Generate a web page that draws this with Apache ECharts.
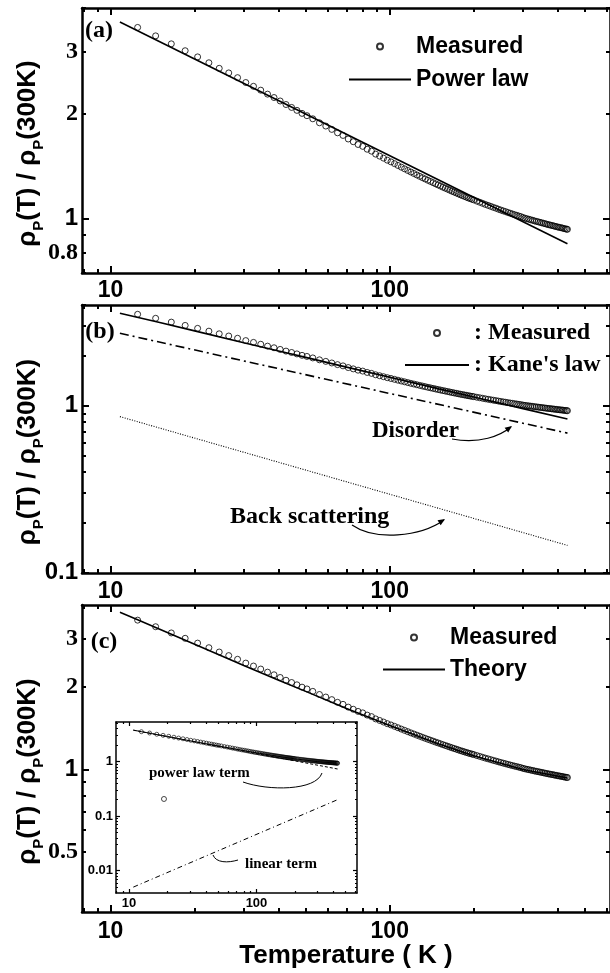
<!DOCTYPE html>
<html><head><meta charset="utf-8">
<script src="https://cdn.jsdelivr.net/npm/echarts@6/dist/echarts.min.js"></script>
<style>html,body{margin:0;padding:0;background:#fff}#c{width:610px;height:973px}</style>
</head><body><div id="c"></div>
<script>
// ---------- data ----------
const tempLabels = [10, 100];
const tempMajorTicks = [10, 100];
const tempMinorTicks = [8, 9, 20, 30, 40, 50, 60, 70, 80, 90, 200, 300, 400, 500, 600];

const measuredT = [12.5,14.5,16.5,18.5,20.5,22.5,24.5,26.5,28.5,30.5,32.5,34.5,36.5,38.5,40.5,42.5,44.5,46.5,48.5,50.5,
 53,56,59,62,65,68,71,74,77,80,83,86,89,92,95,98,
 101,104,107,110,113,116,119,122,125,128,131,134,137,140,143,146,149,152,155,158,161,164,167,170,173,176,179,182,185,188,191,194,197,200,
 205,210,215,220,225,230,235,240,245,250,255,260,265,270,275,280,285,290,295,300,305,310,315,320,325,330,335,340,345,350,355,360,365,370,375,380,385,390,395,400,405,410,415,420,425,430,433];
const measuredRatio = [3.52,3.33,3.16,3.02,2.90,2.79,2.69,2.61,2.53,2.45,2.39,2.33,2.27,2.22,2.17,2.12,2.08,2.04,2.00,1.97,
 1.93,1.88,1.84,1.80,1.76,1.73,1.69,1.66,1.63,1.61,1.58,1.56,1.53,1.51,1.49,1.47,
 1.454,1.437,1.420,1.404,1.389,1.374,1.360,1.347,1.334,1.322,1.310,1.299,1.288,1.278,1.268,1.258,1.249,1.240,1.231,1.223,1.215,1.207,1.199,1.192,1.185,1.178,1.171,1.165,1.159,1.153,1.147,1.142,1.137,1.132,
 1.123,1.115,1.107,1.099,1.092,1.085,1.078,1.072,1.065,1.059,1.053,1.048,1.042,1.037,1.032,1.027,1.023,1.018,1.014,1.008,1.004,1.000,0.997,0.993,0.990,0.986,0.983,0.980,0.977,0.974,0.971,0.968,0.965,0.962,0.960,0.957,0.955,0.952,0.950,0.947,0.945,0.943,0.941,0.938,0.936,0.934,0.933];

const powerLawT = [10.8, 433];
const powerLawRatio = [3.65, 0.848];

const kaneT = [10.8, 15, 20, 30, 40, 50, 70, 100, 150, 200, 300, 433];
const kaneRatio = [3.57, 3.14, 2.80, 2.38, 2.125, 1.945, 1.70, 1.48, 1.26, 1.126, 0.96, 0.832];
const disorderT = [10.8, 433];
const disorderRatio = [2.71, 0.685];
const backScatT = [10.8, 433];
const backScatRatio = [0.86, 0.146];

const theoryT = [10.8, 12.5, 15, 20, 30, 40, 50, 70, 100, 150, 200, 300, 433];
const theoryRatio = [3.76, 3.53, 3.26, 2.87, 2.40, 2.12, 1.93, 1.67, 1.446, 1.239, 1.121, 0.998, 0.929];
const powerTermT = [10.8, 433];
const powerTermRatio = [3.755, 0.73];
const linearTermT = [10.8, 433];
const linearTermRatio = [0.005, 0.2];
const insetMarkerT = [18.8];
const insetMarkerRatio = [0.206];

const yTicksA = {major: [1], minor: [0.7, 0.8, 0.9, 2, 3, 4], labels: [0.8, 1, 2, 3]};
const yTicksB = {major: [0.1, 1], minor: [0.2, 0.3, 0.4, 0.5, 0.6, 0.7, 0.8, 0.9, 2, 3, 4], labels: [0.1, 1]};
const yTicksC = {major: [1], minor: [0.5, 0.6, 0.7, 0.8, 0.9, 2, 3], labels: [0.5, 1, 2, 3]};
const yTicksInset = {major: [0.01, 0.1, 1], minor: [0.005, 0.006, 0.007, 0.008, 0.009, 0.02, 0.03, 0.04, 0.05, 0.06, 0.07, 0.08, 0.09, 0.2, 0.3, 0.4, 0.5, 0.6, 0.7, 0.8, 0.9, 2, 3, 4, 5], labels: [0.01, 0.1, 1]};

// ---------- helpers ----------
const pairs = (xs, ys) => xs.map((x, i) => [x, ys[i]]);
const fmtTick = v => String(Math.round(v * 1000) / 1000);
const SANS = 'Liberation Sans', SERIF = 'Liberation Serif';

function yLabelFormatter(serifLabels) {
  return v => { const s = fmtTick(v); return serifLabels.includes(s) ? '{r|' + s + '}' : '{s|' + s + '}'; };
}

function axisSet(dim, g, range, ticks, st) {
  const p = dim === 'x' ? ['bottom', 'top'] : ['left', 'right'];
  const base = {type: 'log', logBase: 10, gridIndex: g, min: range[0], max: range[1],
    splitLine: {show: false}, minorTick: {show: false}, silent: true};
  const tickStyle = {color: '#000', width: st.tickWidth};
  const major = (pos, withLabel) => Object.assign({}, base, {
    position: pos,
    axisLine: {show: true, onZero: false, lineStyle: {color: '#000', width: st.lineWidth}},
    axisTick: {show: true, inside: true, length: st.majorLen, lineStyle: tickStyle, customValues: ticks.major},
    axisLabel: withLabel ? Object.assign({show: true, customValues: ticks.labels}, st.label) : {show: false}
  });
  const minor = pos => Object.assign({}, base, {
    position: pos,
    axisLine: {show: false},
    axisTick: {show: true, inside: true, length: st.minorLen, lineStyle: tickStyle, customValues: ticks.minor},
    axisLabel: {show: false}
  });
  return [major(p[0], st.showLabel !== false), minor(p[0]), major(p[1], false), minor(p[1])];
}

const tempRange = [7.9, 615];
const tempTicks = {major: tempMajorTicks, minor: tempMinorTicks, labels: tempLabels};
const mainStyle = {lineWidth: 2.5, tickWidth: 2, majorLen: 7, minorLen: 4};
const xLabelMain = {margin: 6, fontFamily: SANS, fontWeight: 'bold', fontSize: 23, color: '#000', formatter: v => fmtTick(v)};
const yRich = {
  s: {fontFamily: SANS, fontWeight: 'bold', fontSize: 24, color: '#000'},
  r: {fontFamily: SERIF, fontWeight: 'bold', fontSize: 24, color: '#000'}
};
const yTitle = '{m|ρ}{sub|P}{m|(T) / ρ}{sub|P}{m|(300K)}{sp|}';
const yTitleStyle = {
  fontFamily: SANS, fontWeight: 'bold', fontSize: 26, color: '#000',
  rich: {
    m: {fontFamily: SANS, fontWeight: 'bold', fontSize: 26, color: '#000', padding: [0, 0, 5, 0], verticalAlign: 'bottom'},
    sub: {fontFamily: SANS, fontWeight: 'bold', fontSize: 15, color: '#000', verticalAlign: 'bottom'},
    sp: {width: 26, fontSize: 10}
  }
};

const grids = [
  {left: 82, top: 8, width: 531, height: 265},
  {left: 82, top: 305, width: 531, height: 268},
  {left: 82, top: 605, width: 531, height: 307},
  {left: 116, top: 722, width: 241, height: 171}
];

const yLabMargin = 4;
const xAxes = [], yAxes = [];
// panel (a)
xAxes.push(...axisSet('x', 0, tempRange, tempTicks, Object.assign({label: xLabelMain}, mainStyle)));
yAxes.push(...axisSet('y', 0, [0.7, 4], yTicksA, Object.assign({label: {margin: yLabMargin, formatter: yLabelFormatter(['3', '2', '0.8']), rich: yRich}}, mainStyle)));
// panel (b)
xAxes.push(...axisSet('x', 1, tempRange, tempTicks, Object.assign({label: Object.assign({}, xLabelMain, {margin: 7})}, mainStyle)));
yAxes.push(...axisSet('y', 1, [0.0998, 4], yTicksB, Object.assign({label: {margin: yLabMargin, formatter: yLabelFormatter([]), rich: yRich}}, mainStyle)));
// panel (c)
xAxes.push(...axisSet('x', 2, tempRange, tempTicks, Object.assign({label: Object.assign({}, xLabelMain, {margin: 8})}, mainStyle)));
yAxes.push(...axisSet('y', 2, [0.3, 4], yTicksC, Object.assign({label: {margin: yLabMargin, formatter: yLabelFormatter(['3', '2', '0.5']), rich: yRich}}, mainStyle)));
// inset
const insetStyle = {lineWidth: 1.5, tickWidth: 1.2, majorLen: 4, minorLen: 2};
xAxes.push(...axisSet('x', 3, tempRange, tempTicks, Object.assign({label: {margin: 4, fontFamily: SANS, fontWeight: 'bold', fontSize: 13, color: '#000', formatter: v => fmtTick(v)}}, insetStyle)));
yAxes.push(...axisSet('y', 3, [0.0039, 5.3], yTicksInset, Object.assign({label: {margin: 3, fontFamily: SANS, fontWeight: 'bold', fontSize: 13, color: '#000', formatter: v => fmtTick(v)}}, insetStyle)));

[0, 4, 8].forEach(i => Object.assign(yAxes[i], {name: yTitle, nameLocation: 'middle', nameRotate: 90, nameGap: 36, nameMoveOverlap: false, nameTextStyle: yTitleStyle}));
Object.assign(xAxes[8], {name: 'Temperature ( K )', nameLocation: 'middle', nameGap: 31, nameMoveOverlap: false,
  nameTextStyle: {fontFamily: SANS, fontWeight: 'bold', fontSize: 26, color: '#000'}});

const scatterStyle = (size, bw) => ({type: 'scatter', symbol: 'circle', symbolSize: size,
  itemStyle: {color: 'rgba(0,0,0,0)', borderColor: '#000', borderWidth: bw}, z: 2, silent: true});
const lineStyleSeries = (lw, type) => ({type: 'line', symbol: 'none', showSymbol: false, z: 3, silent: true,
  lineStyle: {color: '#000', width: lw, type: type || 'solid'}, itemStyle: {color: '#000'}});

const series = [
  Object.assign(scatterStyle(6, 1), {name: 'Measured', xAxisIndex: 0, yAxisIndex: 0, data: pairs(measuredT, measuredRatio)}),
  Object.assign(lineStyleSeries(1.6), {name: 'Power law', xAxisIndex: 0, yAxisIndex: 0, data: pairs(powerLawT, powerLawRatio)}),

  Object.assign(scatterStyle(6, 1), {name: 'Measured', xAxisIndex: 4, yAxisIndex: 4, data: pairs(measuredT, measuredRatio)}),
  Object.assign(lineStyleSeries(1.6), {name: "Kane's law", xAxisIndex: 4, yAxisIndex: 4, data: pairs(kaneT, kaneRatio)}),
  Object.assign(lineStyleSeries(1.6, [9, 4, 2, 4]), {name: 'Disorder', xAxisIndex: 4, yAxisIndex: 4, data: pairs(disorderT, disorderRatio)}),
  Object.assign(lineStyleSeries(1.1, [1, 1.5]), {name: 'Back scattering', xAxisIndex: 4, yAxisIndex: 4, data: pairs(backScatT, backScatRatio)}),

  Object.assign(scatterStyle(6, 1), {name: 'Measured', xAxisIndex: 8, yAxisIndex: 8, data: pairs(measuredT, measuredRatio)}),
  Object.assign(lineStyleSeries(1.6), {name: 'Theory', xAxisIndex: 8, yAxisIndex: 8, data: pairs(theoryT, theoryRatio)}),

  Object.assign(scatterStyle(4, 0.8), {name: 'Measured (inset)', xAxisIndex: 12, yAxisIndex: 12, data: pairs(measuredT, measuredRatio)}),
  Object.assign(lineStyleSeries(1), {name: 'Theory (inset)', xAxisIndex: 12, yAxisIndex: 12, data: pairs(theoryT, theoryRatio)}),
  Object.assign(lineStyleSeries(1, [3, 2]), {name: 'power law term', xAxisIndex: 12, yAxisIndex: 12, data: pairs(powerTermT, powerTermRatio)}),
  Object.assign(lineStyleSeries(1, [5, 3, 1, 3]), {name: 'linear term', xAxisIndex: 12, yAxisIndex: 12, data: pairs(linearTermT, linearTermRatio)}),
  Object.assign(scatterStyle(5, 0.9), {name: 'inset marker', xAxisIndex: 12, yAxisIndex: 12, data: pairs(insetMarkerT, insetMarkerRatio)})
];

const lineIcon = w => 'path://M0,0H' + w + 'V2H0Z';
const legendBase = {orient: 'vertical', padding: 0, selectedMode: false, itemHeight: 6};
const legends = [
  Object.assign({}, legendBase, {data: ['Measured', {name: 'Power law', icon: lineIcon(62)}], left: 349, top: 35, itemWidth: 62, itemGap: 10,
    textStyle: {fontFamily: SANS, fontWeight: 'bold', fontSize: 23, color: '#000'}}),
  Object.assign({}, legendBase, {data: ['Measured', {name: "Kane's law", icon: lineIcon(64)}], left: 405, top: 321, itemWidth: 64, itemGap: 8, formatter: ': {name}',
    textStyle: {fontFamily: SERIF, fontWeight: 'bold', fontSize: 24, color: '#000'}}),
  Object.assign({}, legendBase, {data: ['Measured', {name: 'Theory', icon: lineIcon(62)}], left: 383, top: 626, itemWidth: 62, itemGap: 9,
    textStyle: {fontFamily: SANS, fontWeight: 'bold', fontSize: 23, color: '#000'}})
];

const txt = (text, x, y, size, align) => ({type: 'text', x: x, y: y, silent: true, z: 10,
  style: {text: text, fontFamily: SERIF, fontWeight: 'bold', fontSize: size, fill: '#000', textAlign: align || 'left', textVerticalAlign: 'middle'}});
const curve = (s, w) => ({type: 'bezierCurve', silent: true, z: 10, shape: s, style: {stroke: '#000', lineWidth: w || 1.2, fill: null}});
const head = pts => ({type: 'polygon', silent: true, z: 10, shape: {points: pts}, style: {fill: '#000'}});

const graphics = [
  txt('(a)', 99, 31, 24, 'center'),
  txt('(b)', 100, 332, 24, 'center'),
  txt('(c)', 104, 642, 24, 'center'),
  txt('Disorder', 372, 431, 23),
  curve({x1: 452, y1: 439, cpx1: 480, cpy1: 444, cpx2: 500, cpy2: 436, x2: 511, y2: 427}),
  head([[512, 426], [508.2, 432.6], [504.6, 427.8]]),
  txt('Back scattering', 230, 517, 24),
  curve({x1: 352, y1: 525, cpx1: 375, cpy1: 541, cpx2: 420, cpy2: 537, x2: 444, y2: 520}),
  head([[445, 519], [440.7, 525.3], [437.5, 520.3]]),
  txt('power law term', 149, 773, 15),
  curve({x1: 243, y1: 782, cpx1: 268, cpy1: 791, cpx2: 316, cpy2: 791, x2: 322, y2: 773}, 1),
  txt('linear term', 245, 864, 15),
  curve({x1: 213, y1: 855, cpx1: 216, cpy1: 863, cpx2: 228, cpy2: 863, x2: 238, y2: 860}, 1)
];

const chart = echarts.init(document.getElementById('c'), null, {renderer: 'canvas'});
chart.setOption({
  animation: false,
  backgroundColor: '#fff',
  grid: grids,
  xAxis: xAxes,
  yAxis: yAxes,
  legend: legends,
  series: series,
  graphic: graphics
});
</script></body></html>
